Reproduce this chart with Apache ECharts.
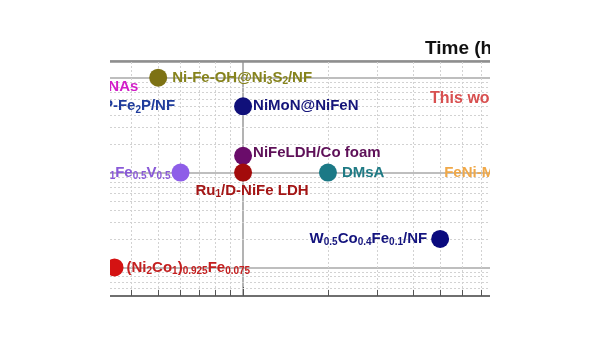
<!DOCTYPE html>
<html><head><meta charset="utf-8">
<script src="https://cdn.jsdelivr.net/npm/echarts@6/dist/echarts.min.js"></script>
<style>html,body{margin:0;padding:0;background:#fff}#c{width:600px;height:338px}</style>
</head><body><div id="c"></div>
<script>
// ---- data ----
const labels = ['Ni-Fe-OH@Ni{s|3}S{s|2}/NF','NiMoN@NiFeN','NiFeLDH/Co foam','Ru{s|1}/D-NiFe LDH','Ni{s|1}Fe{s|0.5}V{s|0.5}','DMsA','W{s|0.5}Co{s|0.4}Fe{s|0.1}/NF','(Ni{s|2}Co{s|1}){s|0.925}Fe{s|0.075}','Ni{s|2}P-Fe{s|2}P/NF','NiFe NAs','FeNi-MOF','This work'];
const timeHours = [50, 100, 100, 100, 60, 200, 500, 35, 24, 22, 1000, 950];
const currentDensity = [1000, 500, 150, 100, 100, 100, 20, 10, 500, 800, 100, 600];
const markerColors = ['#7d7214','#10107a','#6a0c6a','#a30b0b','#8e5ee8','#1b7986','#0a0a7e','#d41212','#1f3c9c','#d21ec8','#f0a848','#d85050'];
const labelColors  = ['#86831c','#14147a','#5e1058','#a41616','#8a5ad8','#1f7a84','#14147e','#c42020','#1f3c9c','#d21ec8','#f0a848','#d85050'];
const labelPositions = ['right','right','right','bottom','left','right','left','right','right','right','left','left'];
const xMinorTicks = [30,40,50,60,70,80,90,200,300,400,500,600,700,800,900];
const yMinorTicks = [6,7,8,9,20,30,40,50,60,70,80,90,200,300,400,500,600,700,800,900];
const xMin = 20, xMax = 1000, yMin = 5, yMax = 1500;

const labelTweaks = {
  3: {offset: [9, -3]},
  2: {offset: [0, -3]}
};
const dist = [5,1,1,4,1,5,4,3,5,5,1,5];

const points = labels.map((t, i) => ({
  value: [timeHours[i], currentDensity[i]],
  itemStyle: {color: markerColors[i], opacity: 1},
  label: Object.assign({
    show: true,
    formatter: t,
    position: labelPositions[i],
    distance: dist[i],
    color: labelColors[i],
    fontSize: i === 11 ? 16 : 15,
    fontWeight: 'bold',
    fontFamily: 'Liberation Sans, Arial, sans-serif',
    rich: {
      s: {fontSize: 10, fontWeight: 'bold', color: labelColors[i], verticalAlign: 'bottom', padding: [7, 0, 0, 0]}
    }
  }, labelTweaks[i] || {})
}));

const gridLineStyle = {color: '#d2d2d2', width: 1, type: [2, 2]};
const minorLines = xMinorTicks.map(v => ({xAxis: v}))
  .concat(yMinorTicks.map(v => ({yAxis: v})));
const tickMarks = xMinorTicks.map(v => [{coord: [v, yMin]}, {coord: [v, yMin * 1.16]}]);

const chart = echarts.init(document.getElementById('c'));
chart.setOption({
  animation: false,
  backgroundColor: '#fff',
  title: {
    text: 'Time (h)', left: 420, top: 34,
    textStyle: {fontSize: 19, fontWeight: 'bold', color: '#111', fontFamily: 'Liberation Sans, Arial, sans-serif'}
  },
  grid: {left: 46, right: 75, top: 61, bottom: 42},
  xAxis: [{
    type: 'log', min: xMin, max: xMax, position: 'bottom',
    axisLine: {show: true, lineStyle: {color: '#555', width: 1.5}},
    axisTick: {show: true, inside: true, length: 9, lineStyle: {color: '#555'}},
    axisLabel: {show: false},
    splitLine: {show: true, lineStyle: {color: '#9a9a9a', width: 1.5}}
  }, {
    type: 'log', min: xMin, max: xMax, position: 'top',
    axisLine: {show: true, onZero: false, lineStyle: {color: '#8e8e8e', width: 2.5}},
    axisTick: {show: false}, axisLabel: {show: false}, splitLine: {show: false}
  }],
  yAxis: {
    type: 'log', min: yMin, max: yMax,
    axisLine: {show: false}, axisTick: {show: false}, axisLabel: {show: false},
    splitLine: {show: true, lineStyle: {color: '#a8a8a8', width: 1.5}}
  },
  series: [{
    type: 'scatter', z: 1, data: [], silent: true,
    markLine: {
      silent: true, symbol: 'none', label: {show: false}, animation: false,
      lineStyle: gridLineStyle, data: minorLines
    }
  }, {
    type: 'scatter', z: 1, data: [], silent: true,
    markLine: {
      silent: true, symbol: 'none', label: {show: false}, animation: false,
      lineStyle: {color: '#555', width: 1, type: 'solid'}, data: tickMarks
    }
  }, {
    type: 'scatter', z: 5, zlevel: 0, clip: false,
    symbol: 'circle', symbolSize: 18,
    itemStyle: {opacity: 1},
    data: points
  }],
  graphic: [
    {type: 'rect', z: 100, shape: {x: 0, y: 0, width: 110, height: 338}, style: {fill: '#fff'}},
    {type: 'rect', z: 100, shape: {x: 490, y: 0, width: 110, height: 338}, style: {fill: '#fff'}},
    {type: 'rect', z: 100, shape: {x: 0, y: 0, width: 600, height: 38}, style: {fill: '#fff'}},
    {type: 'rect', z: 100, shape: {x: 0, y: 300, width: 600, height: 38}, style: {fill: '#fff'}}
  ]
});
</script></body></html>
